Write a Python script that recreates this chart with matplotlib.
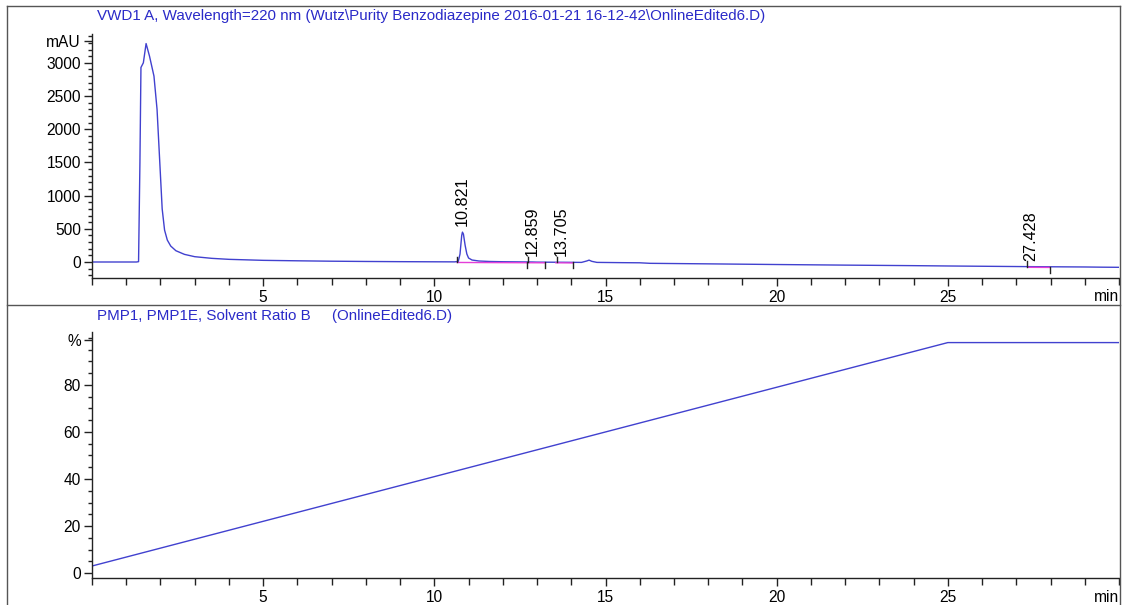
#!/usr/bin/env python3
# -*- coding: utf-8 -*-
"""
ChemStation 风格色谱图重绘
- 上: VWD1 A 220 nm 色谱图
- 下: PMP1 溶剂比例 B
- 输出: out.png
"""

import matplotlib
matplotlib.use("Agg")
import matplotlib.pyplot as plt
from matplotlib.lines import Line2D
from matplotlib.ticker import MultipleLocator

plt.rcParams["font.family"] = ["Liberation Sans", "DejaVu Sans"]

# ---- 数据 ----
TRACE_T = [0.0, 1.30, 1.36, 1.40, 1.43, 1.50, 1.58, 1.68, 1.81, 1.90, 1.98, 2.05, 2.12,
           2.20, 2.30, 2.45, 2.70, 3.00, 3.50, 4.00, 5.00, 6.00, 7.00, 8.00, 9.00, 10.00,
           10.60, 10.70, 10.75, 10.80, 10.821, 10.85, 10.90, 10.95, 11.00, 11.10, 11.30,
           11.60, 12.00, 12.86, 13.00, 13.70, 14.00, 14.30, 14.45, 14.52, 14.60, 14.75,
           15.50, 16.00, 16.30, 18.00, 20.00, 22.00, 24.00, 25.00, 27.40, 28.00, 29.00,
           29.50, 30.00]
TRACE_MAU = [0, 0, 5, 1500, 2930, 3000, 3290, 3100, 2800, 2300, 1500, 800, 480,
             330, 240, 170, 115, 80, 55, 40, 25, 18, 12, 8, 5, 3,
             2, 10, 120, 400, 450, 420, 250, 120, 60, 30, 15,
             8, 4, 0, -2, -4, -5, -6, 15, 28, 10, -6,
             -10, -12, -20, -28, -38, -47, -55, -60, -70, -72, -75,
             -78, -80]

PEAK_RT = [10.821, 12.859, 13.705, 27.428]
PEAK_LABEL_BASE = [455, 10, 5, -72]      # 标签起点 (mAU)
PEAK_LABELS = ["10.821", "12.859", "13.705", "27.428"]

# 积分基线 (起点时间, 起点mAU, 终点时间, 终点mAU)
BASELINES = [(10.67, 1, 12.72, -3), (12.72, -3, 13.22, -4),
             (13.55, -4, 14.04, -6), (27.35, -72, 27.98, -74)]
MARK_UP = [(10.67, 1), (12.74, -3), (13.58, -4), (27.32, -72)]
MARK_DOWN = [(12.72, -3), (13.22, -4), (14.04, -6), (27.98, -74)]

SOLV_T = [0.0, 25.0, 30.0]
SOLV_B = [3.0, 98.0, 98.0]

TITLE_TOP = r"VWD1 A, Wavelength=220 nm (Wutz\Purity Benzodiazepine 2016-01-21 16-12-42\OnlineEdited6.D)"
TITLE_BOT = "PMP1, PMP1E, Solvent Ratio B     (OnlineEdited6.D)"

W, H = 1122, 605
BLUE_TRACE = "#4141cf"
BLUE_TEXT = "#2a2ac8"
PINK = "#e43fd8"
TICK_FS = 11.2


def px_axes(fig, x0, y0, x1, y1):
    # 像素坐标 (左上为原点) -> figure 比例
    return fig.add_axes([x0 / W, 1 - y1 / H, (x1 - x0) / W, (y1 - y0) / H])


def style_axes(ax):
    for s in ("top", "right"):
        ax.spines[s].set_visible(False)
    for s in ("left", "bottom"):
        ax.spines[s].set_color("#222222")
        ax.spines[s].set_linewidth(1.0)
    ax.set_xlim(0, 30)
    ax.set_xticks([5, 10, 15, 20, 25])
    ax.xaxis.set_minor_locator(MultipleLocator(1))
    ax.tick_params(axis="x", which="major", length=6, width=1, labelsize=TICK_FS, pad=3, color="#222222")
    ax.tick_params(axis="x", which="minor", length=5, width=1, color="#222222")
    ax.tick_params(axis="y", which="major", length=6, width=1, labelsize=TICK_FS, pad=2, color="#222222")
    ax.tick_params(axis="y", which="minor", length=3, width=1, color="#222222")
    ax.patch.set_alpha(0)


def main():
    fig = plt.figure(figsize=(W / 100, H / 100), dpi=100)

    # 外框和分隔线
    frame_c = "#555555"
    for xs, ys in [([7, 1120], [6, 6]), ([7, 7], [6, 605]), ([1120, 1120], [6, 605]),
                   ([7, 1120], [305, 305])]:
        fig.add_artist(Line2D([x / W for x in xs], [1 - y / H for y in ys],
                              color=frame_c, lw=1.0))

    # ---- 上图: 色谱 ----
    ax1 = px_axes(fig, 92, 34, 1119, 278)
    style_axes(ax1)
    ax1.set_ylim(-241, 3434)
    ax1.plot(TRACE_T, TRACE_MAU, color=BLUE_TRACE, lw=1.0)
    for t0, y0, t1, y1 in BASELINES:
        ax1.plot([t0, t1], [y0 - 8, y1 - 8], color=PINK, lw=1.0)
    for t, y in MARK_UP:
        ax1.plot([t, t], [y, y + 80], color="#222222", lw=1.0)
    for t, y in MARK_DOWN:
        ax1.plot([t, t], [y, y - 90], color="#222222", lw=1.0)
    for rt, yb, lab in zip(PEAK_RT, PEAK_LABEL_BASE, PEAK_LABELS):
        ax1.annotate(lab, (rt, yb), xytext=(0, 4), textcoords="offset points",
                     rotation=90, ha="center", va="bottom", fontsize=11.6)
    ax1.set_yticks([0, 500, 1000, 1500, 2000, 2500, 3000, 3330])
    ax1.set_yticklabels(["0", "500", "1000", "1500", "2000", "2500", "3000", "mAU"])
    ax1.yaxis.set_minor_locator(MultipleLocator(100))
    ax1.text(1.0, -0.075, "min", transform=ax1.transAxes, ha="right", va="center", fontsize=TICK_FS)
    fig.text(97 / W, 1 - 16 / H, TITLE_TOP, color=BLUE_TEXT, fontsize=10.9, ha="left", va="center")

    # ---- 下图: 溶剂比例 ----
    ax2 = px_axes(fig, 92, 332, 1119, 578)
    style_axes(ax2)
    ax2.set_ylim(-2.1, 102.5)
    ax2.plot(SOLV_T, SOLV_B, color=BLUE_TRACE, lw=1.0)
    ax2.set_yticks([0, 20, 40, 60, 80, 99])
    ax2.set_yticklabels(["0", "20", "40", "60", "80", "%"])
    ax2.yaxis.set_minor_locator(MultipleLocator(5))
    ax2.text(1.0, -0.08, "min", transform=ax2.transAxes, ha="right", va="center", fontsize=TICK_FS)
    fig.text(97 / W, 1 - 316 / H, TITLE_BOT, color=BLUE_TEXT, fontsize=10.9, ha="left", va="center")

    fig.savefig("out.png", dpi=100, facecolor="white")
    plt.close(fig)


if __name__ == "__main__":
    main()
